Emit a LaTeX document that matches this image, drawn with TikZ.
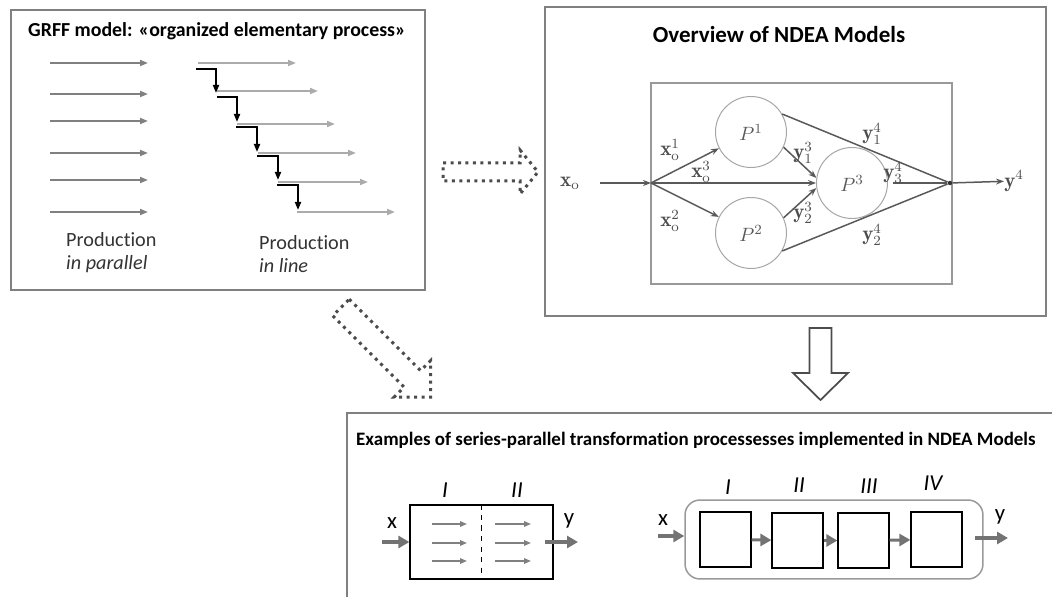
\documentclass[tikz,border=0pt]{standalone}
\usepackage{fontspec}
\newfontfamily\calibri[Ligatures=NoCommon]{Carlito}
\usetikzlibrary{arrows.meta}

\begin{document}
\begin{tikzpicture}[x=0.02cm,y=-0.02cm,
  panel/.style={draw=black!50, line width=0.25mm},
  pararr/.style={draw=black!50, line width=0.35mm, -{Triangle[length=1.6mm,width=1.2mm]}},
  linearr/.style={draw=black!33, line width=0.35mm, -{Triangle[length=1.6mm,width=1.2mm]}},
  steparr/.style={draw=black, line width=0.35mm, -{Triangle[length=1.6mm,width=1.2mm]}},
  dotarr/.style={draw=black!70, line width=0.6mm, dash pattern=on 0.6mm off 0.9mm},
  proc/.style={circle, draw=black!35, line width=0.2mm, minimum size=1.42cm, inner sep=0pt, text=black!65, font=\fontsize{11}{11}\selectfont},
  netarr/.style={draw=black!65, line width=0.3mm, -{Stealth[length=1.6mm,width=1.2mm]}},
  netline/.style={draw=black!65, line width=0.3mm},
  lbl/.style={text=black!70, inner sep=0pt, font=\fontsize{12}{12}\selectfont},
  thickarr/.style={draw=black!55, line width=0.8mm, -{Triangle[length=2.2mm,width=2.4mm]}},
  smallarr/.style={draw=black!50, line width=0.3mm, -{Triangle[length=1.4mm,width=1.1mm]}},
  blk/.style={draw, line width=0.25mm, minimum width=1.02cm, minimum height=1.1cm, inner sep=0pt},
  roman/.style={font=\calibri\itshape\fontsize{13}{13}\selectfont, inner sep=0pt},
  xy/.style={font=\calibri\fontsize{13}{13}\selectfont, inner sep=0pt}]
  \useasboundingbox (0,0) rectangle (1052,597);

  % GRFF panel
  \draw[panel] (11,10) rectangle (425,290);
  \node[anchor=base west, font=\calibri\bfseries\fontsize{11.3}{13}\selectfont] (grff) at (22,37) {GRFF model: «organized elementary process»};

  \foreach \y [count=\i] in {63,94,121,153,180,212} {
    \coordinate (par\i a) at (50,\y);
    \coordinate (par\i b) at (148,\y);
    \draw[pararr] (par\i a) -- (par\i b);
  }
  \foreach \xa/\xb/\y [count=\i] in {198/296/63, 217/318/91, 237/335/124, 258/356/153, 278/368/182, 297/395/212} {
    \coordinate (lin\i a) at (\xa,\y);
    \coordinate (lin\i b) at (\xb,\y);
    \draw[linearr] (lin\i a) -- (lin\i b);
  }
  \foreach \xa/\xc/\ya/\yc [count=\i] in {196/216/69/93, 217/237/97/122, 236/257/127/152, 257/278/156/180, 277/298/185/210} {
    \coordinate (st\i a) at (\xa,\ya);
    \coordinate (st\i c) at (\xc,\yc);
    \draw[steparr] (st\i a) -| (st\i c);
  }

  \node[anchor=base west, text=black!80, font=\calibri\fontsize{11.5}{13.5}\selectfont] (prodpar) at (60,247) {Production};
  \node[anchor=base west, text=black!80, font=\calibri\itshape\fontsize{11.5}{13.5}\selectfont] (inpar) at (60,270) {in parallel};
  \node[anchor=base west, text=black!80, font=\calibri\fontsize{11.5}{13.5}\selectfont] (prodline) at (253,250) {Production};
  \node[anchor=base west, text=black!80, font=\calibri\itshape\fontsize{11.5}{13.5}\selectfont] (inline) at (253,273) {in line};

  % dotted block arrows
  \draw[dotarr] (443,163) -- (520,163) -- (520,150) -- (538,172) -- (520,194) -- (520,181) -- (443,181) -- cycle;
  \draw[dotarr] (349.3,299.2) -- (420.7,370.6) -- (430.6,360.7) -- (430.7,397.2) -- (394.2,397.1) -- (404.1,387.2) -- (332.7,315.8) -- cycle;

  % NDEA panel
  \draw[panel] (545,7) rectangle (1046,316);
  \node[anchor=base, font=\calibri\bfseries\fontsize{13.1}{15}\selectfont] (ndea) at (779,43) {Overview of NDEA Models};
  \draw[draw=black!40, line width=0.3mm] (651,83) rectangle (952,284);

  \node[proc] (p1) at (751,132) {$P^1$};
  \node[proc] (p2) at (751,233) {$P^2$};
  \node[proc] (p3) at (852,183) {$P^3$};
  \coordinate (in) at (600,183);
  \coordinate (split) at (651,183);
  \node[circle, fill=black!80, inner sep=0.9pt] (merge) at (950,183) {};
  \node[lbl, anchor=east] (xo) at (580,183) {$\mathbf{x}_{\mathrm{o}}$};
  \node[lbl, anchor=west] (y4) at (1004,181) {$\mathbf{y}^{4}$};

  \draw[netarr] (in) -- (split);
  \draw[netarr] (split) -- (p1);
  \draw[netarr] (split) -- (p2);
  \draw[netarr] (split) -- (p3);
  \draw[netarr] (p1.-25) -- (p3.172);
  \draw[netarr] (p2.25) -- (p3.188);
  \draw[netline] (p1.30) -- (merge);
  \draw[netline] (p2.-30) -- (merge);
  \draw[netline] (p3.east) ++(5,0) coordinate (p3out) -- (merge);
  \draw[netarr] (merge) -- (y4);

  \node[lbl] (x1) at (670,150) {$\mathbf{x}_{\mathrm{o}}^{1}$};
  \node[lbl] (x3) at (701,172) {$\mathbf{x}_{\mathrm{o}}^{3}$};
  \node[lbl] (x2) at (670,221) {$\mathbf{x}_{\mathrm{o}}^{2}$};
  \node[lbl] (y13) at (803,153) {$\mathbf{y}_{1}^{3}$};
  \node[lbl] (y23) at (803,213) {$\mathbf{y}_{2}^{3}$};
  \node[lbl] (y14) at (872,134) {$\mathbf{y}_{1}^{4}$};
  \node[lbl] (y34) at (893,173) {$\mathbf{y}_{3}^{4}$};
  \node[lbl] (y24) at (872,235) {$\mathbf{y}_{2}^{4}$};

  % down arrow
  \draw[draw=black!70, line width=0.35mm, line join=miter] (809.5,328) -- (831.5,328) -- (831.5,373) -- (848,373) -- (820.5,400) -- (793,373) -- (809.5,373) -- cycle;

  % examples panel
  \draw[panel] (347,605) -- (347,413) -- (1060,413);
  \node[anchor=base west, font=\calibri\bfseries\fontsize{10.8}{13}\selectfont] (expl) at (350,446) {Examples of series-parallel transformation processesses implemented in NDEA Models};

  % parallel example
  \node[draw, line width=0.25mm, minimum width=2.86cm, minimum height=1.48cm, inner sep=0pt] (pbox) at (481.5,542) {};
  \draw[dashed, line width=0.2mm] (pbox.north) -- (pbox.south);
  \foreach \y [count=\i] in {524,543,561} {
    \coordinate (pl\i a) at (432,\y);
    \coordinate (pl\i b) at (467,\y);
    \coordinate (pr\i a) at (495,\y);
    \coordinate (pr\i b) at (531,\y);
    \draw[smallarr] (pl\i a) -- (pl\i b);
    \draw[smallarr] (pr\i a) -- (pr\i b);
  }
  \node[roman] (pI) at (445,490) {I};
  \node[roman] (pII) at (517,490) {II};
  \coordinate (pin) at (382,542);
  \coordinate (pout) at (545,542);
  \coordinate (pend) at (578,542);
  \draw[thickarr] (pin) -- (pbox.west);
  \draw[thickarr] (pout) -- (pend);
  \node[xy] (px) at (392,523) {x};
  \node[xy] (py) at (569,521) {y};

  % series example
  \node[draw=black!40, line width=0.3mm, rounded corners=3mm, minimum width=5.96cm, minimum height=1.58cm, inner sep=0pt] (sbox) at (834,539.5) {};
  \node[blk] (s1) at (725.5,539.5) {};
  \node[blk] (s2) at (797.5,540.5) {};
  \node[blk] (s3) at (863.5,540.5) {};
  \node[blk] (s4) at (936.5,539.5) {};
  \node[roman] (sI) at (728,487) {I};
  \node[roman] (sII) at (799,485) {II};
  \node[roman] (sIII) at (869,486) {III};
  \node[roman] (sIV) at (933,483) {IV};
  \draw[thickarr, line width=0.6mm] (s1) -- (s2);
  \draw[thickarr, line width=0.6mm] (s2) -- (s3);
  \draw[thickarr, line width=0.6mm] (s3) -- (s4);
  \coordinate (sin) at (658,536);
  \coordinate (sout) at (975,538);
  \coordinate (send) at (1008,538);
  \draw[thickarr] (sin) -- (sbox.west |- sin);
  \draw[thickarr] (sout) -- (send);
  \node[xy] (sx) at (663,520) {x};
  \node[xy] (sy) at (1000,517) {y};
\end{tikzpicture}
\end{document}
